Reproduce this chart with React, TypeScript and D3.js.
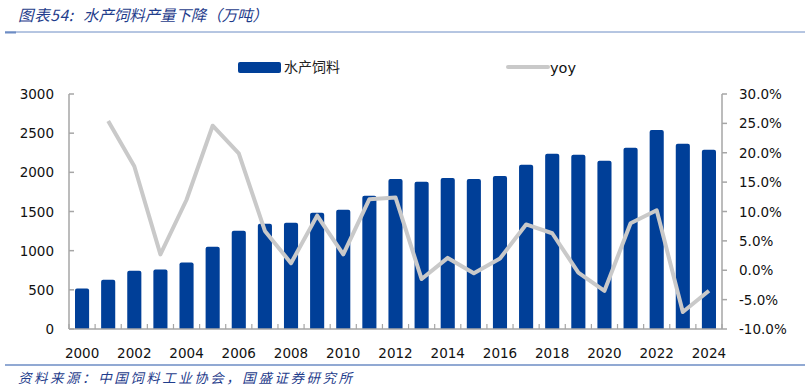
import * as d3 from 'd3';

// 水产饲料产量（万吨）与同比
const years = d3.range(2000, 2025).map(String);
const output = [
  517, 630, 745, 758, 848, 1050, 1254, 1343, 1356, 1483, 1521, 1700, 1915,
  1881, 1928, 1915, 1954, 2097, 2237, 2225, 2148, 2314, 2542, 2364, 2288,
];
// yoy 从 2001 开始
const yoyYears = years.slice(1);
const yoy = [
  0.254, 0.177, 0.027, 0.120, 0.246, 0.199, 0.067, 0.012, 0.093, 0.027, 0.121,
  0.124, -0.015, 0.021, -0.005, 0.020, 0.078, 0.063, -0.004, -0.035, 0.080,
  0.102, -0.071, -0.035,
];
const leftTicks = [0, 500, 1000, 1500, 2000, 2500, 3000];
const rightTicks = [-0.1, -0.05, 0, 0.05, 0.1, 0.15, 0.2, 0.25, 0.3];
const xLabels = years.filter((_, i) => i % 2 === 0);

const W = 811;
const H = 390;
const BAR = '#003f98';
const LINE = '#c9c9c9';
const AXIS = '#a6a6a6';
const TITLE = '#1f3d8c';
const NUM_FONT = '"DejaVu Sans", Verdana, sans-serif';
const CJK_FONT = '"Noto Sans CJK SC", sans-serif';

export default function App() {
  const left = 69;
  const right = 722;
  const top = 94;
  const bottom = 329;

  const x = d3.scaleBand<string>().domain(years).range([left, right]).paddingInner(0.46).paddingOuter(0.23);
  const yL = d3.scaleLinear().domain([0, 3000]).range([bottom, top]);
  const yR = d3.scaleLinear().domain([-0.1, 0.3]).range([bottom, top]);
  const bw = x.bandwidth();

  const line = d3.line<number>()
    .x((_, i) => (x(yoyYears[i]) as number) + bw / 2)
    .y((d) => yR(d));

  const barPath = (xs: number, ys: number, w: number, h: number) => {
    const r = 2;
    return `M${xs},${ys + h}V${ys + r}Q${xs},${ys} ${xs + r},${ys}H${xs + w - r}Q${xs + w},${ys} ${xs + w},${ys + r}V${ys + h}Z`;
  };

  // category boundaries for x ticks
  const bounds = d3.range(years.length + 1).map((i) => left + i * (right - left) / years.length);

  return (
    <svg width={W} height={H} style={{ position: 'absolute', left: 0, top: 0, background: '#fff' }}>
      {/* title */}
      <text x={18} y={21} fontFamily={CJK_FONT} fontStyle="italic" fontSize={15.5} fill={TITLE} textLength={55} lengthAdjust="spacing">
        图表54:
      </text>
      <text x={83} y={21} fontFamily={CJK_FONT} fontStyle="italic" fontSize={15.5} fill={TITLE} textLength={185} lengthAdjust="spacing">
        水产饲料产量下降（万吨）
      </text>
      <line x1={5} x2={805} y1={32} y2={32} stroke="#6d8cc4" strokeWidth={1} />
      <line x1={5} x2={16} y1={32.5} y2={32.5} stroke="#6d8cc4" strokeWidth={2} />

      {/* legend */}
      <rect x={238} y={62} width={43} height={11} rx={2} fill={BAR} />
      <text x={284} y={72} fontFamily={CJK_FONT} fontSize={14} fill="#222">水产饲料</text>
      <line x1={508} x2={548} y1={67} y2={67} stroke={LINE} strokeWidth={4} strokeLinecap="round" />
      <text x={550} y={73} fontFamily={NUM_FONT} fontSize={14.5} fill="#111">yoy</text>

      {/* bars */}
      {output.map((v, i) => (
        <path key={years[i]} d={barPath(x(years[i]) as number, yL(v), bw, bottom - yL(v))} fill={BAR} />
      ))}

      {/* yoy line */}
      <path d={line(yoy) || ''} fill="none" stroke={LINE} strokeWidth={4} strokeLinejoin="round" />

      {/* left axis */}
      <line x1={left} x2={left} y1={top} y2={bottom} stroke={AXIS} strokeWidth={1.5} />
      {leftTicks.map((t) => (
        <g key={t}>
          <line x1={left} x2={left + 5} y1={yL(t)} y2={yL(t)} stroke={AXIS} strokeWidth={1.5} />
          <text x={54} y={yL(t) + 5} textAnchor="end" fontFamily={NUM_FONT} fontSize={13.5} fill="#111">{t}</text>
        </g>
      ))}

      {/* right axis */}
      <line x1={right} x2={right} y1={top} y2={bottom} stroke={AXIS} strokeWidth={1.5} />
      {rightTicks.map((t) => (
        <g key={t}>
          <line x1={right} x2={right + 5} y1={yR(t)} y2={yR(t)} stroke={AXIS} strokeWidth={1.5} />
          <text x={739} y={yR(t) + 5} fontFamily={NUM_FONT} fontSize={13.5} fill="#111">
            {`${(t * 100).toFixed(1)}%`}
          </text>
        </g>
      ))}

      {/* x axis */}
      <line x1={left} x2={right} y1={bottom} y2={bottom} stroke={AXIS} strokeWidth={1.5} />
      {bounds.map((b, i) => (
        <line key={i} x1={b} x2={b} y1={bottom} y2={bottom - 5} stroke={AXIS} strokeWidth={1.2} />
      ))}
      {xLabels.map((yr) => (
        <text key={yr} x={(x(yr) as number) + bw / 2} y={358} textAnchor="middle" fontFamily={NUM_FONT} fontSize={13.5} fill="#111">
          {yr}
        </text>
      ))}

      {/* source */}
      <line x1={5} x2={805} y1={365} y2={365} stroke="#6d8cc4" strokeWidth={1.5} />
      <text x={18} y={383} fontFamily={CJK_FONT} fontStyle="italic" fontSize={13.5} fill={TITLE} textLength={334} lengthAdjust="spacing">
        资料来源：中国饲料工业协会，国盛证券研究所
      </text>
    </svg>
  );
}
